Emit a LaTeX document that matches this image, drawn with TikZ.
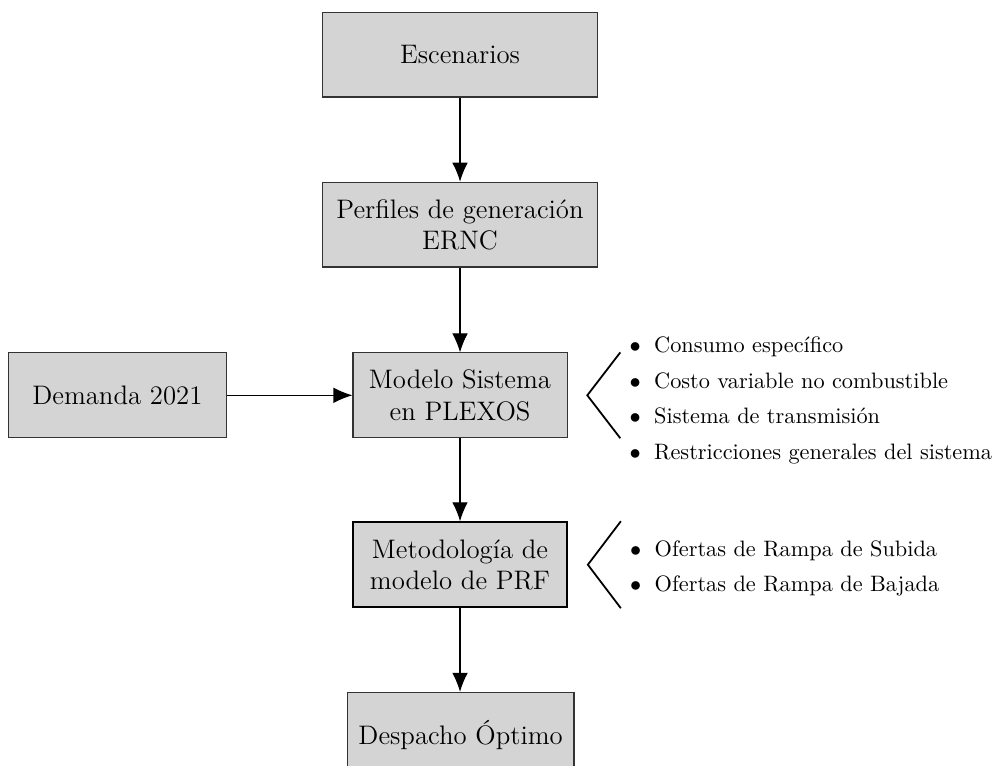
\documentclass[tikz,border=0pt]{standalone}
\usepackage{fontspec}
\usetikzlibrary{calc,arrows.meta}

\newcommand{\bitem}{\makebox[11pt][l]{$\bullet$}}

\begin{document}
\begin{tikzpicture}[
  box/.style={draw=black!80, line width=0.5pt, fill=black!17, minimum width=96pt,
              minimum height=38pt, inner sep=5pt, align=center, font=\large},
  arr/.style={-{Latex[length=8.5pt,width=7pt]}, line width=0.5pt},
  brack/.style={line width=0.8pt},
  items/.style={anchor=west, inner sep=0pt, align=left}
]
\useasboundingbox (0,0) rectangle (15.76,-12.06);
\coordinate (P1) at (7.25,-0.86);
\coordinate (P2) at (7.25,-3.54);
\coordinate (P3) at (7.25,-6.23);
\coordinate (P4) at (1.85,-6.23);
\coordinate (P5) at (7.25,-8.90);
\coordinate (P6) at (7.26,-11.58);

% Draw the boxes
\node[box, minimum width=123pt] (Esc) at (P1) {Escenarios};
\node[box, minimum width=123pt] (Perf) at (P2) {Perfiles de generación\\ERNC};
\node[box] (Mod) at (P3) {Modelo Sistema\\en PLEXOS};
\node[box, minimum width=98pt] (Dem) at (P4) {Demanda 2021};
\node[box, draw=black, line width=1pt] (Met) at (P5) {Metodología de\\modelo de PRF};
\node[box] (Desp) at (P6) {Despacho Óptimo};

% Draw the arrows
\draw[arr] (Esc) -- (Perf);
\draw[arr] (Perf) -- (Mod);
\draw[arr] (Dem) -- (Mod);
\draw[arr] (Mod) -- (Met);
\draw[arr] (Met) -- (Met |- Desp.north);

% Brackets and lists beside the boxes
\coordinate (B1) at ($(Mod.north east)+(0.83,0)$);
\coordinate (T1) at ($(Mod.east)+(0.31,0)$);
\coordinate (C1) at ($(Mod.south east)+(0.83,0)$);
\draw[brack] (B1) -- (T1) -- (C1);
\node[items] (L1) at ($(Mod.east)+(0.97,-0.08)$)
  {\bitem Consumo específico\\[4pt]
   \bitem Costo variable no combustible\\[4pt]
   \bitem Sistema de transmisión\\[4pt]
   \bitem Restricciones generales del sistema};

\coordinate (B2) at ($(Met.north east)+(0.83,0)$);
\coordinate (T2) at ($(Met.east)+(0.31,0)$);
\coordinate (C2) at ($(Met.south east)+(0.83,0)$);
\draw[brack] (B2) -- (T2) -- (C2);
\node[items] (L2) at ($(Met.east)+(0.97,-0.06)$)
  {\bitem Ofertas de Rampa de Subida\\[4pt]
   \bitem Ofertas de Rampa de Bajada};

\end{tikzpicture}
\end{document}
